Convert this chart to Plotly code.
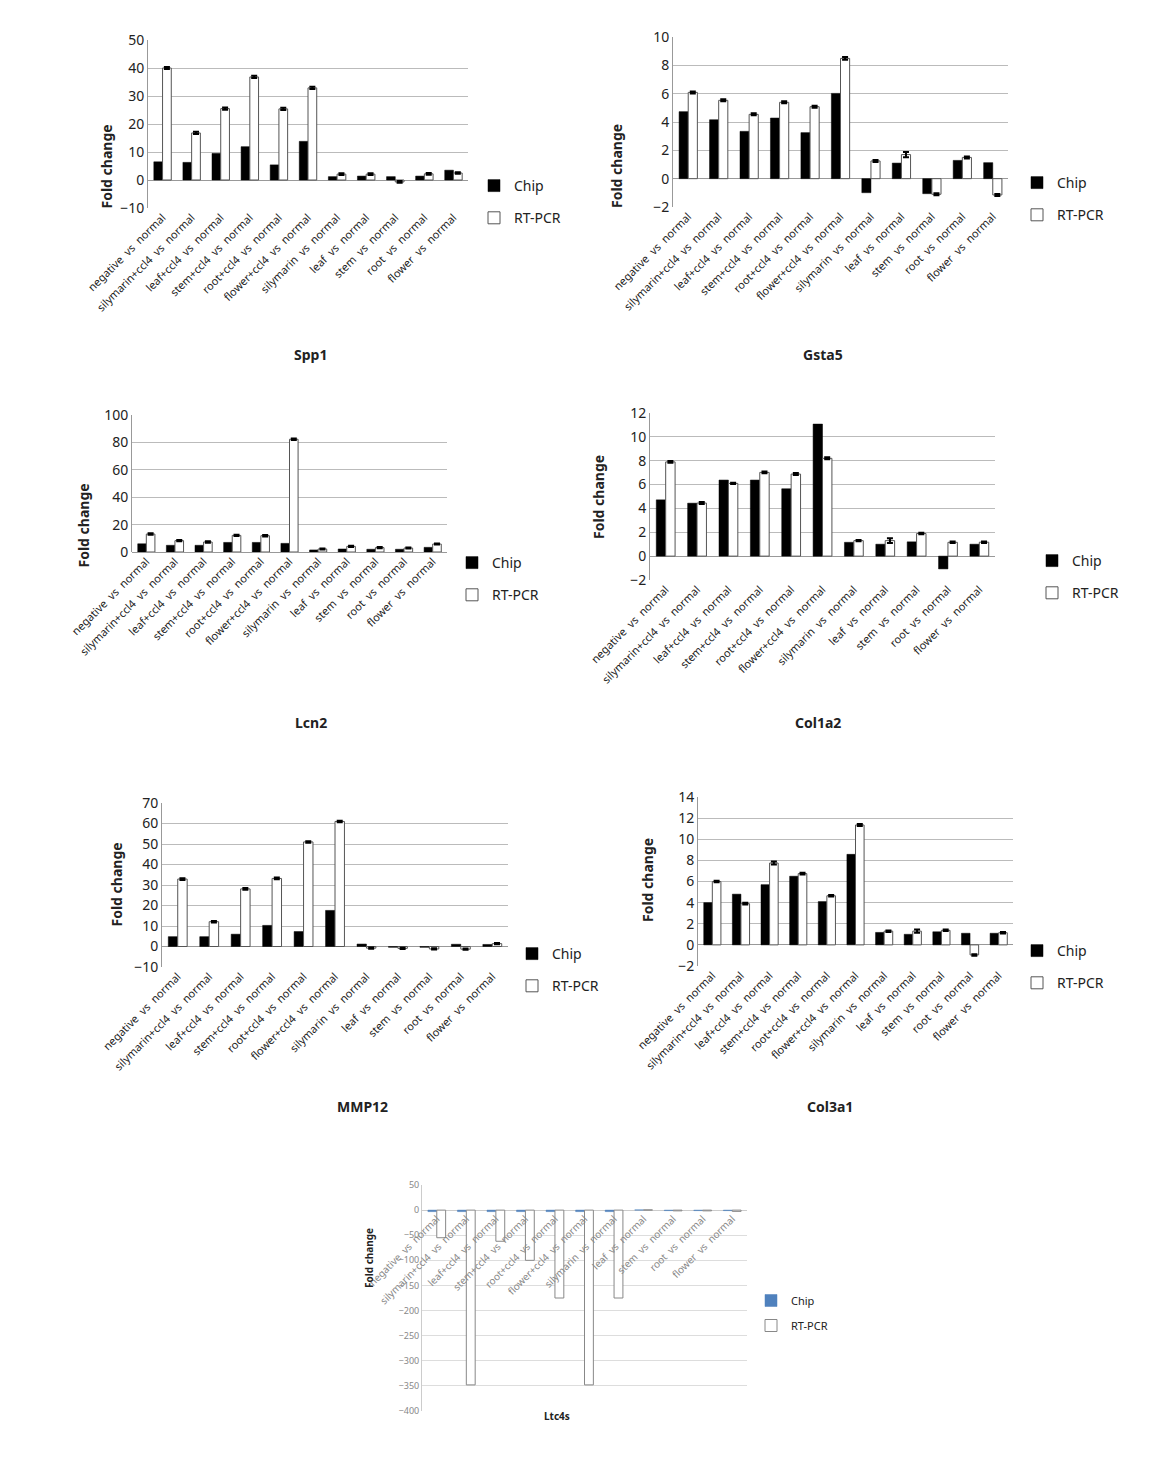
import plotly.graph_objects as go

W, H = 1151, 1457

categories = [
    "negative  vs  normal", "silymarin+ccl4  vs  normal", "leaf+ccl4  vs  normal",
    "stem+ccl4  vs  normal", "root+ccl4  vs  normal", "flower+ccl4  vs  normal",
    "silymarin  vs  normal", "leaf  vs  normal", "stem  vs  normal",
    "root  vs  normal", "flower  vs  normal",
]
series_names = ["Chip", "RT-PCR"]

spp1_chip = [6.5, 6.3, 9.5, 11.9, 5.4, 13.8, 1.2, 1.4, 1.2, 1.4, 3.5]
spp1_rt = [40.0, 16.8, 25.5, 36.8, 25.4, 32.9, 2.1, 2.1, -0.7, 2.2, 2.5]
spp1_err = [0.4, 0.4, 0.4, 0.4, 0.4, 0.4, 0.3, 0.3, 0.3, 0.3, 0.3]

gsta5_chip = [4.73, 4.16, 3.34, 4.28, 3.25, 6.02, -0.99, 1.1, -1.06, 1.29, 1.13]
gsta5_rt = [6.09, 5.53, 4.54, 5.39, 5.08, 8.49, 1.25, 1.7, -1.1, 1.5, -1.15]
gsta5_err = [0.07, 0.07, 0.07, 0.07, 0.07, 0.1, 0.07, 0.18, 0.07, 0.07, 0.07]

lcn2_chip = [6.0, 4.9, 4.9, 7.0, 7.0, 6.3, 1.5, 2.2, 2.0, 2.0, 3.4]
lcn2_rt = [13.1, 8.3, 7.3, 12.1, 11.9, 82.3, 2.2, 4.1, 3.2, 2.9, 5.8]
lcn2_err = [0.5, 0.5, 0.5, 0.5, 0.5, 0.5, 0.4, 0.4, 0.4, 0.4, 0.4]

col1a2_chip = [4.72, 4.44, 6.38, 6.38, 5.65, 11.07, 1.16, 1.0, 1.2, -1.07, 1.0]
col1a2_rt = [7.9, 4.45, 6.1, 7.02, 6.88, 8.2, 1.3, 1.3, 1.9, 1.16, 1.17]
col1a2_err = [0.08, 0.08, 0.06, 0.08, 0.08, 0.08, 0.06, 0.2, 0.06, 0.06, 0.06]

mmp12_chip = [4.8, 4.8, 6.0, 10.3, 7.3, 17.6, 1.2, -0.4, -0.4, 1.1, 1.0]
mmp12_rt = [32.9, 12.1, 28.1, 33.2, 51.0, 61.0, -0.8, -0.9, -1.2, -1.3, 1.4]
mmp12_err = [0.4, 0.4, 0.4, 0.4, 0.4, 0.4, 0.3, 0.3, 0.3, 0.3, 0.3]

col3a1_chip = [4.0, 4.8, 5.7, 6.5, 4.1, 8.57, 1.18, 1.0, 1.24, 1.1, 1.1]
col3a1_rt = [6.0, 3.9, 7.75, 6.75, 4.65, 11.35, 1.3, 1.3, 1.38, -0.95, 1.15]
col3a1_err = [0.08, 0.08, 0.15, 0.08, 0.08, 0.1, 0.07, 0.15, 0.07, 0.07, 0.07]

ltc4s_chip = [-3, -3, -3, -3, -3, -3, -3, 0.5, -1, -1, -1]
ltc4s_rt = [-55, -348, -62, -100, -175, -348, -175, 0.5, -1.5, -1.5, -2.5]

gene_titles = ["Spp1", "Gsta5", "Lcn2", "Col1a2", "MMP12", "Col3a1", "Ltc4s"]

# layout only: pixel boxes of each plot area, axis range, tick step, legend spot, title spots
panels = [
    dict(chip=spp1_chip, rt=spp1_rt, err=spp1_err, box=(148, 468, 40, 208), rng=(-10, 50), dtick=10,
         leg=(474, 170), ytitle=(95, 122), title=(292, 343)),
    dict(chip=gsta5_chip, rt=gsta5_rt, err=gsta5_err, box=(673, 1008, 37, 207), rng=(-2, 10), dtick=2,
         leg=(1017, 167), ytitle=(617, 122), title=(845, 343)),
    dict(chip=lcn2_chip, rt=lcn2_rt, err=lcn2_err, box=(132, 447, 415, 552), rng=(0, 100), dtick=20,
         leg=(452, 547), ytitle=(72, 482), title=(293, 722)),
    dict(chip=col1a2_chip, rt=col1a2_rt, err=col1a2_err, box=(650, 995, 413, 580), rng=(-2, 12), dtick=2,
         leg=(1032, 545), ytitle=(598, 497), title=(843, 722)),
    dict(chip=mmp12_chip, rt=mmp12_rt, err=mmp12_err, box=(162, 508, 803, 967), rng=(-10, 70), dtick=10,
         leg=(512, 938), ytitle=(104, 885), title=(335, 1118)),
    dict(chip=col3a1_chip, rt=col3a1_rt, err=col3a1_err, box=(698, 1013, 797, 966), rng=(-2, 14), dtick=2,
         leg=(1017, 935), ytitle=(648, 880), title=(855, 1118)),
    dict(chip=ltc4s_chip, rt=ltc4s_rt, err=None, box=(422, 747, 1185, 1411), rng=(-400, 50), dtick=50,
         leg=(751, 1286), ytitle=(360, 1290), title=(557, 1425)),
]

FONT = "Noto Sans"
fig = go.Figure()
annotations = []

for i, p in enumerate(panels):
    n = i + 1
    sx = "" if n == 1 else str(n)
    small = (n == 7)
    x0, x1, yt, yb = p["box"]
    dom_x = [x0 / W, x1 / W]
    dom_y = [1 - yb / H, 1 - yt / H]
    chip_color = "#4F81BD" if small else "black"
    legname = "legend" + sx
    fig.add_trace(go.Bar(
        x=categories, y=p["chip"], name=series_names[0],
        marker=dict(color=chip_color, line=dict(color=chip_color, width=0.5)),
        xaxis="x" + sx, yaxis="y" + sx, legend=legname, legendgroup="a%d" % n,
    ))
    rt_kwargs = {}
    if p["err"] is not None:
        rt_kwargs["error_y"] = dict(type="data", array=p["err"], symmetric=True,
                                    color="black", thickness=2, width=3)
    fig.add_trace(go.Bar(
        x=categories, y=p["rt"], name=series_names[1],
        marker=dict(color="white", line=dict(color="#555555" if not small else "#888888", width=1)),
        xaxis="x" + sx, yaxis="y" + sx, legend=legname, legendgroup="b%d" % n,
        **rt_kwargs,
    ))

    tick_col = "#888888" if small else "#222222"
    xa = dict(domain=dom_x, anchor="y" + sx, tickangle=-45, showgrid=False, showline=False,
              tickfont=dict(family=FONT, size=10 if small else 11, color=tick_col),
              ticks="", fixedrange=True, automargin=False)
    if small:
        zero_pos = dom_y[0] + (0 - p["rng"][0]) / (p["rng"][1] - p["rng"][0]) * (dom_y[1] - dom_y[0])
        xa.update(anchor="free", position=zero_pos)
    ya = dict(domain=dom_y, anchor="x" + sx, range=list(p["rng"]), dtick=p["dtick"],
              showgrid=True, gridcolor="#BBBBBB" if not small else "#DDDDDD", gridwidth=1,
              zeroline=True, zerolinecolor="#999999" if not small else "#CCCCCC", zerolinewidth=1,
              showline=True, linecolor="#999999" if not small else "#CCCCCC", linewidth=1,
              tickfont=dict(family=FONT, size=9 if small else 14, color=tick_col),
              ticks="", fixedrange=True, automargin=False)
    fig.layout["xaxis" + sx] = xa
    fig.layout["yaxis" + sx] = ya

    lx, ly = p["leg"]
    fig.layout[legname] = dict(
        x=lx / W, y=1 - ly / H, xanchor="left", yanchor="top",
        font=dict(family=FONT, size=11 if small else 14, color="#222222"),
        bgcolor="rgba(0,0,0,0)", traceorder="grouped", tracegroupgap=6 if small else 11,
        itemwidth=30,
    )

    tx, ty = p["ytitle"]
    annotations.append(dict(
        x=tx / W, y=1 - ty / H, xref="paper", yref="paper", text="<b>Fold change</b>",
        showarrow=False, textangle=-90, font=dict(family=FONT, size=10 if small else 14, color="#222222"),
    ))
    gx, gy = p["title"]
    annotations.append(dict(
        x=gx / W, y=1 - gy / H, xref="paper", yref="paper", text="<b>%s</b>" % gene_titles[i],
        showarrow=False, font=dict(family=FONT, size=10 if small else 14, color="#222222"),
    ))

fig.update_layout(
    width=W, height=H, margin=dict(l=0, r=0, t=0, b=0, autoexpand=False),
    paper_bgcolor="white", plot_bgcolor="white",
    barmode="group", bargap=0.4, bargroupgap=0.0,
    annotations=annotations, showlegend=True,
)

fig.write_html("out.html")
